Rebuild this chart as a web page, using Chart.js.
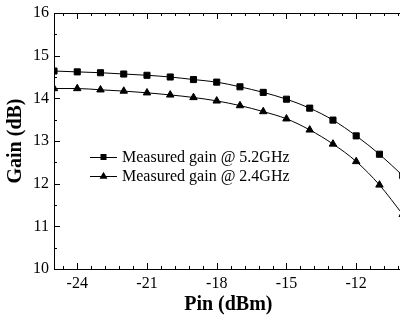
<!DOCTYPE html>
<html lang="en">
<head>
  <meta charset="UTF-8" />
  <title>Gain vs Pin</title>
  <script src="https://cdn.jsdelivr.net/npm/chart.js"></script>
  <style>
    html, body { margin: 0; padding: 0; background: #fff; overflow: hidden; }
    #wrap { width: 408px; height: 322px; }
  </style>
</head>
<body>
  <div id="wrap"><canvas id="gainChart" width="408" height="322"></canvas></div>

  <script>
    // values
    const pin = [-25, -24, -23, -22, -21, -20, -19, -18, -17, -16, -15, -14, -13, -12, -11, -10];
    const gain52 = [14.64, 14.62, 14.60, 14.57, 14.54, 14.50, 14.44, 14.38, 14.27, 14.14, 13.98, 13.77, 13.49, 13.12, 12.69, 12.19];
    const gain24 = [14.23, 14.23, 14.20, 14.17, 14.13, 14.08, 14.02, 13.94, 13.83, 13.69, 13.52, 13.26, 12.93, 12.52, 11.97, 11.28];
    const xTicks = [-24, -21, -18, -15, -12];
    const yTicks = [10, 11, 12, 13, 14, 15, 16];
    const labels = ['Measured gain @ 5.2GHz', 'Measured gain @ 2.4GHz'];

    const serif = "'Liberation Serif', 'Times New Roman', serif";

    function drawMarker(ctx, style, x, y) {
      ctx.beginPath();
      if (style === 'rect') {
        ctx.rect(x - 3, y - 3, 6, 6);
      } else {
        ctx.moveTo(x, y - 4.2);
        ctx.lineTo(x + 4, y + 2.8);
        ctx.lineTo(x - 4, y + 2.8);
        ctx.closePath();
      }
      ctx.fill();
    }

    // inward ticks (major + minor), top frame line and the legend
    const frame = {
      id: 'frame',
      afterDraw(chart) {
        const { ctx, chartArea: a, scales: { x, y } } = chart;
        ctx.save();
        ctx.strokeStyle = '#000';
        ctx.fillStyle = '#000';
        ctx.lineWidth = 1;
        ctx.beginPath();
        ctx.moveTo(a.left, a.top + 0.5);
        ctx.lineTo(a.right, a.top + 0.5);
        for (let i = -1; i <= 23; i++) {
          const px = Math.round(x.getPixelForValue(-24 + i * 0.6)) + 0.5;
          const len = i % 5 === 0 ? 6 : 3;
          ctx.moveTo(px, a.bottom); ctx.lineTo(px, a.bottom - len);
          ctx.moveTo(px, a.top); ctx.lineTo(px, a.top + len);
        }
        for (let i = 0; i <= 12; i++) {
          const py = Math.round(y.getPixelForValue(10 + i * 0.5)) + 0.5;
          const len = i % 2 === 0 ? 6 : 3;
          ctx.moveTo(a.left, py); ctx.lineTo(a.left + len, py);
        }
        ctx.stroke();

        // legend
        ctx.font = '16px ' + serif;
        ctx.textBaseline = 'middle';
        chart.data.datasets.forEach((ds, k) => {
          const ly = 157 + k * 19;
          ctx.beginPath();
          ctx.moveTo(90, ly + 0.5); ctx.lineTo(117, ly + 0.5);
          ctx.stroke();
          drawMarker(ctx, ds.pointStyle, 103.5, ly);
          ctx.fillText(labels[k], 122, ly + 1);
        });
        ctx.restore();
      }
    };

    const ctx = document.getElementById('gainChart').getContext('2d');
    new Chart(ctx, {
      type: 'line',
      data: {
        datasets: [
          {
            label: labels[0],
            data: pin.map((p, i) => ({ x: p, y: gain52[i] })),
            borderColor: '#000',
            backgroundColor: '#000',
            borderWidth: 1,
            pointStyle: 'rect',
            pointRadius: 4.3,
            cubicInterpolationMode: 'monotone'
          },
          {
            label: labels[1],
            data: pin.map((p, i) => ({ x: p, y: gain24[i] })),
            borderColor: '#000',
            backgroundColor: '#000',
            borderWidth: 1,
            pointStyle: 'triangle',
            pointRadius: 4.3,
            cubicInterpolationMode: 'monotone'
          }
        ]
      },
      options: {
        responsive: false,
        animation: false,
        layout: { padding: { top: 13, left: 0, right: 0, bottom: 0 } },
        plugins: {
          legend: { display: false },
          tooltip: { enabled: false }
        },
        scales: {
          x: {
            type: 'linear',
            min: -25,
            max: -10,
            afterBuildTicks: s => { s.ticks = xTicks.map(v => ({ value: v })); },
            afterFit: s => { s.height = 53; },
            grid: { display: false, drawTicks: false },
            border: { display: true, color: '#000', width: 1 },
            ticks: { color: '#000', font: { family: serif, size: 16 }, padding: 5, maxRotation: 0 },
            title: {
              display: true,
              text: 'Pin (dBm)',
              color: '#000',
              font: { family: serif, size: 20, weight: 'bold' },
              padding: { top: 0, bottom: 5 }
            }
          },
          y: {
            min: 10,
            max: 16,
            afterBuildTicks: s => { s.ticks = yTicks.map(v => ({ value: v })); },
            afterFit: s => { s.width = 54; },
            grid: { display: false, drawTicks: false },
            border: { display: true, color: '#000', width: 1 },
            ticks: { color: '#000', font: { family: serif, size: 16, lineHeight: 1 }, padding: 5 },
            title: {
              display: true,
              text: 'Gain (dB)',
              color: '#000',
              font: { family: serif, size: 20, weight: 'bold' },
              padding: { top: 4, bottom: 0 }
            }
          }
        }
      },
      plugins: [frame]
    });
  </script>
</body>
</html>
